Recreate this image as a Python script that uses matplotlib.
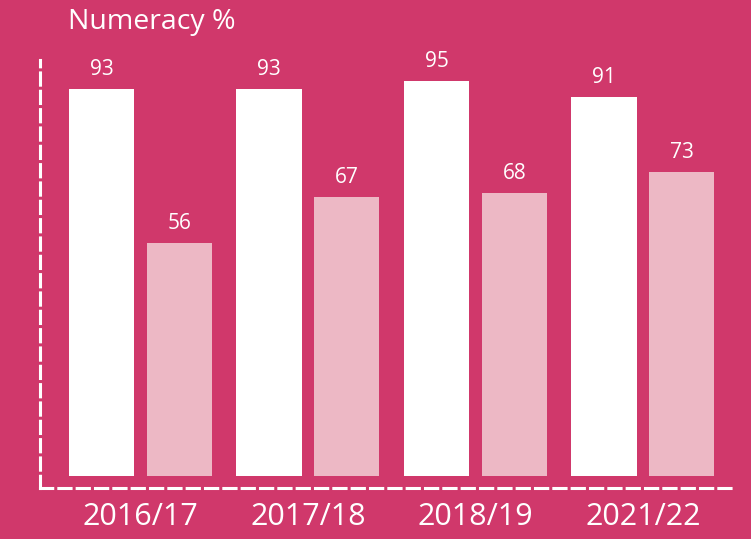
import matplotlib
matplotlib.use('Agg')
import matplotlib.pyplot as plt
import numpy as np

plt.rcParams['font.family'] = ['Open Sans', 'DejaVu Sans']

# data
years = ['2016/17', '2017/18', '2018/19', '2021/22']
series_a = [93, 93, 95, 91]
series_b = [56, 67, 68, 73]

bg = '#D0386B'
light = '#EDB8C5'

fig = plt.figure(figsize=(7.51, 5.39), dpi=100, facecolor=bg)
ax = fig.add_axes([40/751, 51/539, 695/751, 428/539])
ax.set_facecolor(bg)

x = np.arange(len(years))
w = 0.39
off = 0.232
bars_a = ax.bar(x - off, series_a, w, color='white', zorder=2)
bars_b = ax.bar(x + off, series_b, w, color=light, zorder=2)

for bars in (bars_a, bars_b):
    for b in bars:
        ax.text(b.get_x() + b.get_width()/2, b.get_height() + 2.2, f'{int(b.get_height())}',
                ha='center', va='bottom', color='white', fontsize=15)

ax.set_xlim(-0.6, 3.55)
ax.set_ylim(-2.9, 100)

for s in ('top', 'right'):
    ax.spines[s].set_visible(False)
for s in ('left', 'bottom'):
    ax.spines[s].set_color('white')
    ax.spines[s].set_linewidth(2.2)
    ax.spines[s].set_linestyle((0, (4, 2)))

ax.set_yticks([])
ax.set_xticks(x)
ax.set_xticklabels(years, color='white', fontsize=22)
ax.tick_params(axis='x', length=0, pad=10)

fig.text(68/751, 1 - 22/539, 'Numeracy %', color='white', fontsize=20.5, ha='left', va='center')

fig.savefig('out.png', dpi=100, facecolor=bg)
